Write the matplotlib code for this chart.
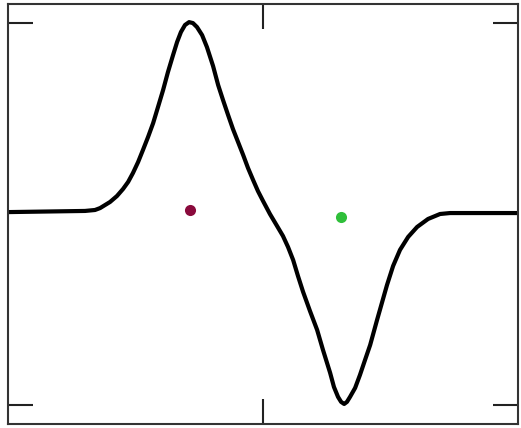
import numpy as np
import matplotlib
matplotlib.use("Agg")
import matplotlib.pyplot as plt

# curve
x_curve = [-1.000, -0.698, -0.659, -0.639, -0.600, -0.573, -0.549, -0.529, -0.510,
           -0.490, -0.471, -0.451, -0.431, -0.412, -0.392, -0.373, -0.353, -0.337,
           -0.322, -0.306, -0.290, -0.275, -0.259, -0.239, -0.220, -0.196, -0.176,
           -0.157, -0.137, -0.118, -0.098, -0.078, -0.059, -0.039, -0.020, 0.000,
           0.027, 0.055, 0.078, 0.098, 0.118, 0.137, 0.157, 0.184, 0.212, 0.235,
           0.263, 0.278, 0.294, 0.306, 0.318, 0.329, 0.341, 0.361, 0.380, 0.400,
           0.420, 0.447, 0.486, 0.510, 0.537, 0.569, 0.604, 0.647, 0.694, 0.733, 1.000]
y_curve = [0.010, 0.016, 0.021, 0.031, 0.063, 0.094, 0.131, 0.168, 0.215,
           0.272, 0.335, 0.403, 0.476, 0.560, 0.649, 0.743, 0.832, 0.901,
           0.953, 0.990, 1.005, 1.000, 0.979, 0.937, 0.874, 0.775, 0.675,
           0.597, 0.518, 0.445, 0.377, 0.309, 0.241, 0.178, 0.120, 0.068,
           0.000, -0.063, -0.115, -0.173, -0.241, -0.325, -0.408, -0.508, -0.607, -0.712,
           -0.832, -0.906, -0.958, -0.984, -0.995, -0.984, -0.958, -0.911, -0.843, -0.764,
           -0.686, -0.555, -0.372, -0.272, -0.188, -0.120, -0.068, -0.026, 0.000, 0.005, 0.005]

# the two dots
dot_x = [-0.286, 0.306]
dot_y = [0.021, -0.016]
dot_colors = ["#8a0a3c", "#2fbf3a"]

fig = plt.figure(figsize=(5.21, 4.28), dpi=100)
ax = fig.add_axes([0.0154, 0.0093, 0.979, 0.9814])

ax.plot(x_curve, y_curve, color="black", linewidth=3,
        solid_joinstyle="round", solid_capstyle="round")
for xd, yd, c in zip(dot_x, dot_y, dot_colors):
    ax.plot(xd, yd, "o", color=c, markersize=8, markeredgewidth=0)

ax.set_xlim(-1, 1)
ax.set_ylim(-1.1, 1.1)
ax.set_xticks([0])
ax.set_yticks([-1, 1])
ax.tick_params(direction="in", length=18, width=1.5, color="#222222",
               top=True, right=True, labelleft=False, labelbottom=False)
for s in ax.spines.values():
    s.set_linewidth(1.5)
    s.set_color("#333333")

plt.savefig("out.png", dpi=100)
